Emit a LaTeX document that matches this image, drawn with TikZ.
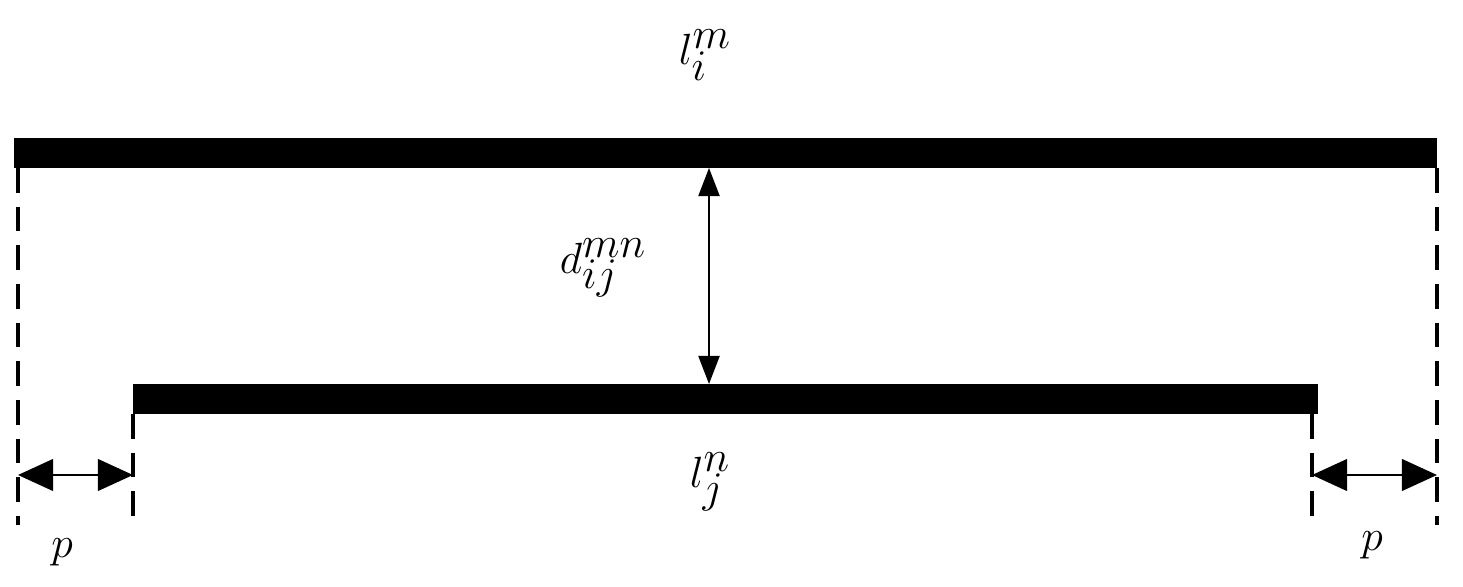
\documentclass[tikz,border=0pt]{standalone}
\usetikzlibrary{arrows.meta}
\begin{document}
\begin{tikzpicture}[x=0.02cm,y=-0.02cm,
  bar/.style={line width=17pt},
  guide/.style={line width=2.3pt,dash pattern=on 14pt off 8pt},
  pdim/.style={line width=1.4pt,{Triangle[length=20pt,width=18pt]}-{Triangle[length=20pt,width=18pt]}},
  lab/.style={font=\fontsize{38}{44}\selectfont}]
\useasboundingbox (0,0) rectangle (1463,587);
\coordinate (t1) at (14,153); \coordinate (t2) at (1437,153);
\coordinate (b1) at (133,399); \coordinate (b2) at (1318,399);
\draw[bar] (t1) -- (t2);
\draw[bar] (b1) -- (b2);
\coordinate (g1a) at (18,168); \coordinate (g1b) at (18,525);
\coordinate (g2a) at (1437,168); \coordinate (g2b) at (1437,525);
\coordinate (g3a) at (133,414); \coordinate (g3b) at (133,520);
\coordinate (g4a) at (1312,414); \coordinate (g4b) at (1312,520);
\draw[guide] (g1a) -- (g1b);
\draw[guide] (g2a) -- (g2b);
\draw[guide] (g3a) -- (g3b);
\draw[guide] (g4a) -- (g4b);
\coordinate (pl1) at (18,475); \coordinate (pl2) at (133,475);
\coordinate (pr1) at (1312,475); \coordinate (pr2) at (1437,475);
\draw[pdim] (pl1) -- (pl2);
\draw[pdim] (pr1) -- (pr2);
\coordinate (d1) at (709,168); \coordinate (d2) at (709,384);
\draw[line width=1.2pt,{Triangle[length=16pt,width=12pt]}-{Triangle[length=16pt,width=12pt]}] (d1) -- (d2);
\node[lab] (lm) at (705,55) {$l_i^m$};
\node[lab] (dmn) at (603,268) {$d_{ij}^{mn}$};
\node[lab] (ln) at (710,482) {$l_j^n$};
\node[lab] (p1) at (62,552) {$p$};
\node[lab] (p2) at (1372,545) {$p$};
\end{tikzpicture}
\end{document}
